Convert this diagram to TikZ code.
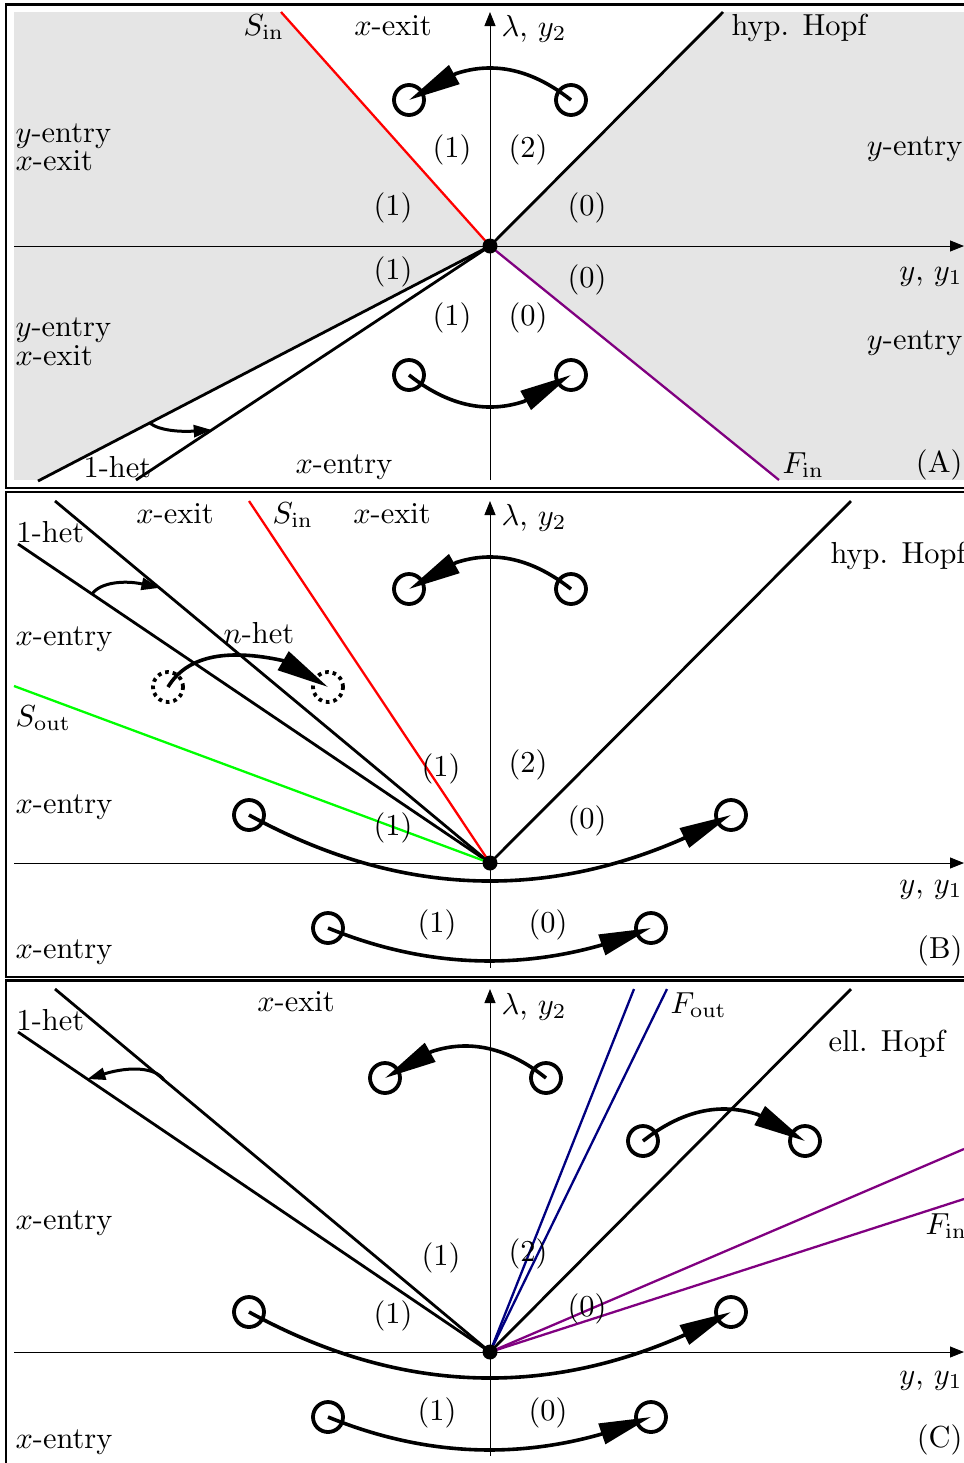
\documentclass[tikz,border=0pt]{standalone}
\usetikzlibrary{arrows.meta,calc}
\definecolor{panelgray}{RGB}{229,229,229}
\definecolor{myred}{RGB}{255,0,0}
\definecolor{mygreen}{RGB}{0,255,0}
\definecolor{mypurple}{RGB}{128,0,128}
\definecolor{myblue}{RGB}{0,0,128}
\begin{document}
\begin{tikzpicture}[x=0.5pt,y=-0.5pt,
  frame/.style={line width=1.2pt},
  axis/.style={line width=0.45pt,-{Triangle[length=7pt,width=5.5pt]}},
  bd/.style={line width=1.4pt},
  cl/.style={line width=1.15pt},
  orb/.style={circle,draw,line width=1.9pt,minimum size=15pt,inner sep=0pt},
  dorb/.style={orb,dash pattern=on 1.8pt off 2pt},
  flow/.style={line width=1.8pt,-{Triangle[length=26pt,width=10.5pt]}},
  smallflow/.style={line width=1.5pt,-{Triangle[length=9pt,width=6pt]}},
  lbl/.style={inner sep=0pt,font=\fontsize{10}{12}\selectfont,scale=1.52,transform shape},
  dot/.style={circle,fill,inner sep=0pt,minimum size=7.5pt},
]
\useasboundingbox (0,0) rectangle (964,1463);
\clip (0,0) rectangle (964,1463);

% ================= Panel A =================
\coordinate (oA) at (490,246);
\fill[panelgray] (14,12) rectangle (964,480);
\fill[white] (281,12) -- (oA) -- (723,12) -- cycle;
\fill[white] (38,481) -- (oA) -- (779,481) -- cycle;
\coordinate (aYb) at (490,480); \coordinate (aYt) at (490,12);
\coordinate (aXl) at (14,246); \coordinate (aXr) at (964,246);
\draw[axis] (aYb) -- (aYt);
\draw[axis] (aXl) -- (aXr);
\coordinate (aS) at (281,12);
\coordinate (aH) at (723,12);
\coordinate (aF) at (779,480);
\coordinate (aL1) at (38,481);
\coordinate (aL2) at (136,480);
\draw[cl,myred] (aS) -- (oA);
\draw[bd] (oA) -- (aH);
\draw[cl,mypurple] (oA) -- (aF);
\draw[bd] (oA) -- (aL1);
\draw[bd] (oA) -- (aL2);
\node[dot] (dA) at (oA) {};
\node[orb] (a1) at (409,100) {};
\node[orb] (a2) at (571,100) {};
\node[orb] (a3) at (409,375) {};
\node[orb] (a4) at (571,375) {};
\draw[flow] (a2.center) .. controls (532.7,69.7) and (494.3,60.9) .. (456,73.6) -- (a1.center);
\draw[flow] (a3.center) .. controls (447.3,405.3) and (485.7,414.1) .. (524,401.4) -- (a4.center);
\coordinate (hA1) at ($(oA)!0.753!(aL1)$);
\coordinate (hA2) at ($(oA)!0.786!(aL2)$);
\draw[smallflow] (hA1) .. controls ($(hA1)+(10,8)$) and ($(hA1)+(32,9)$) .. (hA2);
\node[lbl,anchor=base west] (tA1) at (243,35) {$S_{\mathrm{in}}$};
\node[lbl,anchor=base] (tA2) at (393,35) {$x$-exit};
\node[lbl,anchor=base west] (tA3) at (501,36) {$\lambda$, $y_2$};
\node[lbl,anchor=base west] (tA4) at (731,35) {hyp. Hopf};
\node[lbl,anchor=base west] (tA5) at (15,142) {$y$-entry};
\node[lbl,anchor=base west] (tA6) at (15,170) {$x$-exit};
\node[lbl,anchor=base east] (tA7) at (963,155) {$y$-entry};
\node[lbl,anchor=base east] (tA8) at (963,280) {$y$, $y_1$};
\node[lbl,anchor=base west] (tA9) at (15,336) {$y$-entry};
\node[lbl,anchor=base west] (tA10) at (15,365) {$x$-exit};
\node[lbl,anchor=base east] (tA11) at (963,349) {$y$-entry};
\node[lbl,anchor=base west] (tA12) at (83,477) {1-het};
\node[lbl,anchor=base west] (tA13) at (295,473) {$x$-entry};
\node[lbl,anchor=base west] (tA14) at (782,473) {$F_{\mathrm{in}}$};
\node[lbl,anchor=base east] (tA15) at (963,472) {(A)};
\node[lbl] (nA1) at (452,150) {(1)};
\node[lbl] (nA2) at (528,150) {(2)};
\node[lbl] (nA3) at (393,208) {(1)};
\node[lbl] (nA4) at (587,208) {(0)};
\node[lbl] (nA5) at (393,272) {(1)};
\node[lbl] (nA6) at (587,280) {(0)};
\node[lbl] (nA7) at (452,318) {(1)};
\node[lbl] (nA8) at (528,318) {(0)};
\draw[frame] (6,4.5) rectangle (975,488);

% ================= Panel B =================
\coordinate (oB) at (490,863);
\coordinate (bYb) at (490,968); \coordinate (bYt) at (490,501);
\coordinate (bXl) at (14,863); \coordinate (bXr) at (964,863);
\draw[axis] (bYb) -- (bYt);
\draw[axis] (bXl) -- (bXr);
\coordinate (bL1) at (55,501);
\coordinate (bL2) at (18,544);
\coordinate (bS) at (249,501);
\coordinate (bG) at (14,686);
\coordinate (bH) at (851,501);
\draw[bd] (bL1) -- (oB);
\draw[bd] (bL2) -- (oB);
\draw[cl,myred] (bS) -- (oB);
\draw[cl,mygreen] (bG) -- (oB);
\draw[bd] (oB) -- (bH);
\node[dot] (dB) at (oB) {};
\node[orb] (b1) at (409,589) {};
\node[orb] (b2) at (571,589) {};
\node[dorb] (b3) at (168,687) {};
\node[dorb] (b4) at (328,687) {};
\node[orb] (b5) at (249,815) {};
\node[orb] (b6) at (731,815) {};
\node[orb] (b7) at (328,928) {};
\node[orb] (b8) at (651,928) {};
\draw[flow] (b2.center) .. controls (532.7,558.7) and (494.3,549.9) .. (456,562.6) -- (b1.center);
\draw[flow] (b3.center) .. controls (186.3,656.7) and (224.7,647.9) .. (283,660.6) -- (b4.center);
\draw[flow] (b5.center) .. controls (393.3,894.1) and (537.7,902.1) .. (682,839.1) -- (b6.center);
\draw[flow] (b7.center) .. controls (418.6,965) and (509.3,970.9) .. (600,945.5) -- (b8.center);
\coordinate (hB1) at ($(bL2)!0.157!(oB)$);
\coordinate (hB2) at ($(bL1)!0.24!(oB)$);
\draw[smallflow] (hB1) .. controls ($(hB1)+(8,-12)$) and ($(hB1)+(33,-14)$) .. (hB2);
\node[lbl,anchor=base] (tB1) at (175,523) {$x$-exit};
\node[lbl,anchor=base west] (tB2) at (272,523) {$S_{\mathrm{in}}$};
\node[lbl,anchor=base] (tB3) at (392,523) {$x$-exit};
\node[lbl,anchor=base west] (tB4) at (501,525) {$\lambda$, $y_2$};
\node[lbl,anchor=base west] (tB5) at (16,542) {1-het};
\node[lbl,anchor=base west] (tB6) at (830,563) {hyp. Hopf};
\node[lbl,anchor=base west] (tB7) at (15,645) {$x$-entry};
\node[lbl,anchor=base west] (tB8) at (223,643) {$n$-het};
\node[lbl,anchor=base west] (tB9) at (15,726) {$S_{\mathrm{out}}$};
\node[lbl,anchor=base west] (tB10) at (15,813) {$x$-entry};
\node[lbl,anchor=base east] (tB11) at (963,893) {$y$, $y_1$};
\node[lbl,anchor=base west] (tB12) at (15,958) {$x$-entry};
\node[lbl,anchor=base east] (tB13) at (963,958) {(B)};
\node[lbl] (nB1) at (441,769) {(1)};
\node[lbl] (nB2) at (528,765) {(2)};
\node[lbl] (nB3) at (393,828) {(1)};
\node[lbl] (nB4) at (587,821) {(0)};
\node[lbl] (nB5) at (437,925) {(1)};
\node[lbl] (nB6) at (548,925) {(0)};
\draw[frame] (6,492) rectangle (975,977);

% ================= Panel C =================
\coordinate (oC) at (490,1352);
\coordinate (cYb) at (490,1456); \coordinate (cYt) at (490,989);
\coordinate (cXl) at (14,1352); \coordinate (cXr) at (964,1352);
\draw[axis] (cYb) -- (cYt);
\draw[axis] (cXl) -- (cXr);
\coordinate (cL1) at (55,989);
\coordinate (cL2) at (18,1032);
\coordinate (cB1) at (634,989);
\coordinate (cB2) at (667,989);
\coordinate (cH) at (851,989);
\coordinate (cP1) at (964,1149);
\coordinate (cP2) at (964,1199);
\draw[bd] (cL1) -- (oC);
\draw[bd] (cL2) -- (oC);
\draw[cl,myblue] (oC) -- (cB1);
\draw[cl,myblue] (oC) -- (cB2);
\draw[bd] (oC) -- (cH);
\draw[cl,mypurple] (oC) -- (cP1);
\draw[cl,mypurple] (oC) -- (cP2);
\node[dot] (dC) at (oC) {};
\node[orb] (c1) at (385,1078) {};
\node[orb] (c2) at (546,1078) {};
\node[orb] (c3) at (643,1141) {};
\node[orb] (c4) at (805,1141) {};
\node[orb] (c5) at (249,1312) {};
\node[orb] (c6) at (731,1312) {};
\node[orb] (c7) at (328,1417) {};
\node[orb] (c8) at (651,1417) {};
\draw[flow] (c2.center) .. controls (508.2,1047.7) and (469.8,1038.9) .. (431.5,1051.6) -- (c1.center);
\draw[flow] (c3.center) .. controls (681.3,1110.7) and (719.7,1101.9) .. (758,1114.6) -- (c4.center);
\draw[flow] (c5.center) .. controls (393.3,1391.1) and (537.7,1399.1) .. (682,1336.1) -- (c6.center);
\draw[flow] (c7.center) .. controls (418.6,1454) and (509.3,1459.9) .. (600,1434.5) -- (c8.center);
\coordinate (hC1) at ($(cL1)!0.25!(oC)$);
\coordinate (hC2) at ($(cL2)!0.147!(oC)$);
\draw[smallflow] (hC1) .. controls ($(hC1)+(-8,-12)$) and ($(hC1)+(-33,-14)$) .. (hC2);
\node[lbl,anchor=base west] (tC1) at (16,1030) {1-het};
\node[lbl,anchor=base] (tC2) at (296,1011) {$x$-exit};
\node[lbl,anchor=base west] (tC3) at (501,1014) {$\lambda$, $y_2$};
\node[lbl,anchor=base west] (tC4) at (670,1013) {$F_{\mathrm{out}}$};
\node[lbl,anchor=base west] (tC5) at (828,1051) {ell. Hopf};
\node[lbl,anchor=base west] (tC6) at (15,1229) {$x$-entry};
\node[lbl,anchor=base west] (tC7) at (925,1234) {$F_{\mathrm{in}}$};
\node[lbl,anchor=base east] (tC8) at (963,1384) {$y$, $y_1$};
\node[lbl,anchor=base west] (tC9) at (15,1448) {$x$-entry};
\node[lbl,anchor=base east] (tC10) at (963,1447) {(C)};
\node[lbl] (nC1) at (441,1258) {(1)};
\node[lbl] (nC2) at (528,1254) {(2)};
\node[lbl] (nC3) at (393,1316) {(1)};
\node[lbl] (nC4) at (587,1309) {(0)};
\node[lbl] (nC5) at (437,1413) {(1)};
\node[lbl] (nC6) at (548,1413) {(0)};
\draw[frame] (6,980.5) rectangle (975,1472);
\end{tikzpicture}
\end{document}
